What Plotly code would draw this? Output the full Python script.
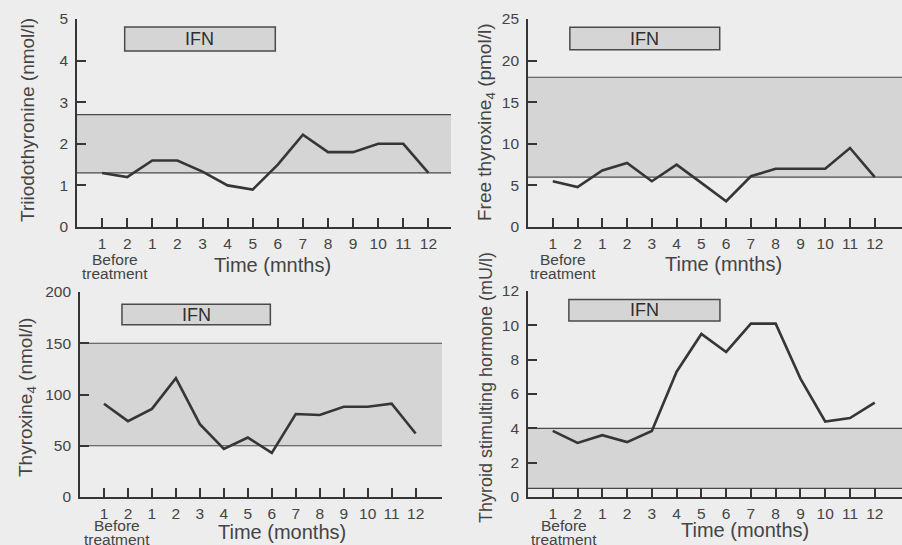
import plotly.graph_objects as go

# ---------------- data ----------------
tick_labels = ["1", "2", "1", "2", "3", "4", "5", "6", "7", "8", "9", "10", "11", "12"]
x_idx = list(range(len(tick_labels)))

t3 = [1.3, 1.2, 1.6, 1.6, 1.33, 1.0, 0.9, 1.5, 2.22, 1.8, 1.8, 2.0, 2.0, 1.3]
ft4 = [5.5, 4.8, 6.8, 7.7, 5.5, 7.5, 5.3, 3.1, 6.1, 7.0, 7.0, 7.0, 9.5, 6.0]
t4 = [91, 74, 86, 116, 71, 47, 58, 43, 81, 80, 88, 88, 91, 62]
tsh = [3.85, 3.15, 3.6, 3.2, 3.85, 7.3, 9.5, 8.45, 10.1, 10.1, 6.9, 4.4, 4.6, 5.5]

t3_range = [1.3, 2.7]
ft4_range = [6, 18]
t4_range = [50, 150]
tsh_range = [0.5, 4.0]

y_titles = ["Triiodothyronine (nmol/l)", "Free thyroxine<sub>4</sub> (pmol/l)",
            "Thyroxine<sub>4</sub> (nmol/l)", "Thyroid stimulting hormone (mU/l)"]
x_titles = ["Time (mnths)", "Time (mnths)", "Time (months)", "Time (months)"]
ifn_label = "IFN"
before_lines = ["Before", "treatment"]

# ---------------- styling ----------------
W, H = 902, 545
BG = "#ededed"
BAND = "#d5d5d5"
INK = "#363636"
FONT = "Liberation Sans, Arial, sans-serif"


def px(x):
    return x / W


def py(y):
    return 1 - y / H


panels = [
    dict(y=t3, band=t3_range, xdom=(77, 451), ydom=(227, 19), xr=[-1, 13.9], yr=[0, 5], dt=1,
         ifn=(0.9, 6.9, 4.23, 4.81), ytitle=(27, 120, 19), xtitle=(272, 265), before=(115, 259)),
    dict(y=ft4, band=ft4_range, xdom=(528, 902), ydom=(227, 19), xr=[-1, 14.1], yr=[0, 25], dt=5,
         ifn=(0.69, 6.74, 21.3, 24.0), ytitle=(486, 123, 19), xtitle=(723, 264), before=(563, 259)),
    dict(y=t4, band=t4_range, xdom=(80, 442), ydom=(497, 292), xr=[-1, 14.1], yr=[0, 200], dt=50,
         ifn=(0.75, 6.94, 168, 188), ytitle=(27, 398, 19), xtitle=(282, 532), before=(117, 525)),
    dict(y=tsh, band=tsh_range, xdom=(528, 902), ydom=(497, 291), xr=[-1, 14.1], yr=[0, 12], dt=2,
         ifn=(0.65, 6.75, 10.25, 11.5), ytitle=(486, 388, 18), xtitle=(745, 530), before=(564, 525)),
]

fig = go.Figure()
shapes = []
annotations = []

for i, p in enumerate(panels):
    n = "" if i == 0 else str(i + 1)
    xa, ya = "x" + n, "y" + n
    fig.add_trace(go.Scatter(x=x_idx, y=p["y"], mode="lines", xaxis=xa, yaxis=ya,
                             line=dict(color=INK, width=2.6), showlegend=False, hoverinfo="skip"))
    ax_common = dict(showline=True, linecolor=INK, linewidth=1.6, ticks="inside", tickcolor=INK,
                     tickwidth=1.5, ticklen=9, showgrid=False, zeroline=False, automargin=False,
                     tickfont=dict(family=FONT, size=15.5, color="#444"))
    fig.layout["xaxis" + n] = dict(ax_common, domain=[px(p["xdom"][0]), px(p["xdom"][1])],
                                   range=p["xr"], tickmode="array", tickvals=x_idx,
                                   ticktext=tick_labels, anchor=ya, fixedrange=True,
                                   ticklabelstandoff=2)
    fig.layout["yaxis" + n] = dict(ax_common, domain=[py(p["ydom"][0]), py(p["ydom"][1])],
                                   range=p["yr"], dtick=p["dt"], tick0=0, anchor=xa,
                                   ticklabelstandoff=4, fixedrange=True)
    lo, hi = p["band"]
    shapes.append(dict(type="rect", xref=xa + " domain", yref=ya, x0=0, x1=1, y0=lo, y1=hi,
                       fillcolor=BAND, line=dict(width=0), layer="below"))
    for v in (lo, hi):
        shapes.append(dict(type="line", xref=xa + " domain", yref=ya, x0=0, x1=1, y0=v, y1=v,
                           line=dict(color="#4a4a4a", width=1.2), layer="below"))
    x0, x1, y0, y1 = p["ifn"]
    shapes.append(dict(type="rect", xref=xa, yref=ya, x0=x0, x1=x1, y0=y0, y1=y1,
                       fillcolor=BAND, line=dict(color="#4a4a4a", width=1.5), layer="above"))
    annotations.append(dict(xref=xa, yref=ya, x=(x0 + x1) / 2, y=(y0 + y1) / 2, text=ifn_label,
                            showarrow=False, font=dict(family=FONT, size=18, color="#2e2e2e")))
    tx, ty, fs = p["ytitle"]
    annotations.append(dict(xref="paper", yref="paper", x=px(tx), y=py(ty), text=y_titles[i],
                            textangle=-90, showarrow=False, xanchor="center", yanchor="middle",
                            font=dict(family=FONT, size=fs, color="#444")))
    tx, ty = p["xtitle"]
    annotations.append(dict(xref="paper", yref="paper", x=px(tx), y=py(ty), text=x_titles[i],
                            showarrow=False, xanchor="center", yanchor="middle",
                            font=dict(family=FONT, size=20, color="#444")))
    tx, ty = p["before"]
    for k, line in enumerate(before_lines):
        annotations.append(dict(xref="paper", yref="paper", x=px(tx), y=py(ty + 14 * k), text=line,
                                showarrow=False, xanchor="center", yanchor="middle",
                                font=dict(family=FONT, size=15.5, color="#444")))

fig.update_layout(width=W, height=H, margin=dict(l=0, r=0, t=0, b=0, autoexpand=False),
                  paper_bgcolor=BG, plot_bgcolor=BG, shapes=shapes, annotations=annotations,
                  showlegend=False)

fig.write_html("out.html", config=dict(displayModeBar=False),
               post_script="document.body.style.margin='0px';document.body.style.overflow='hidden';")
